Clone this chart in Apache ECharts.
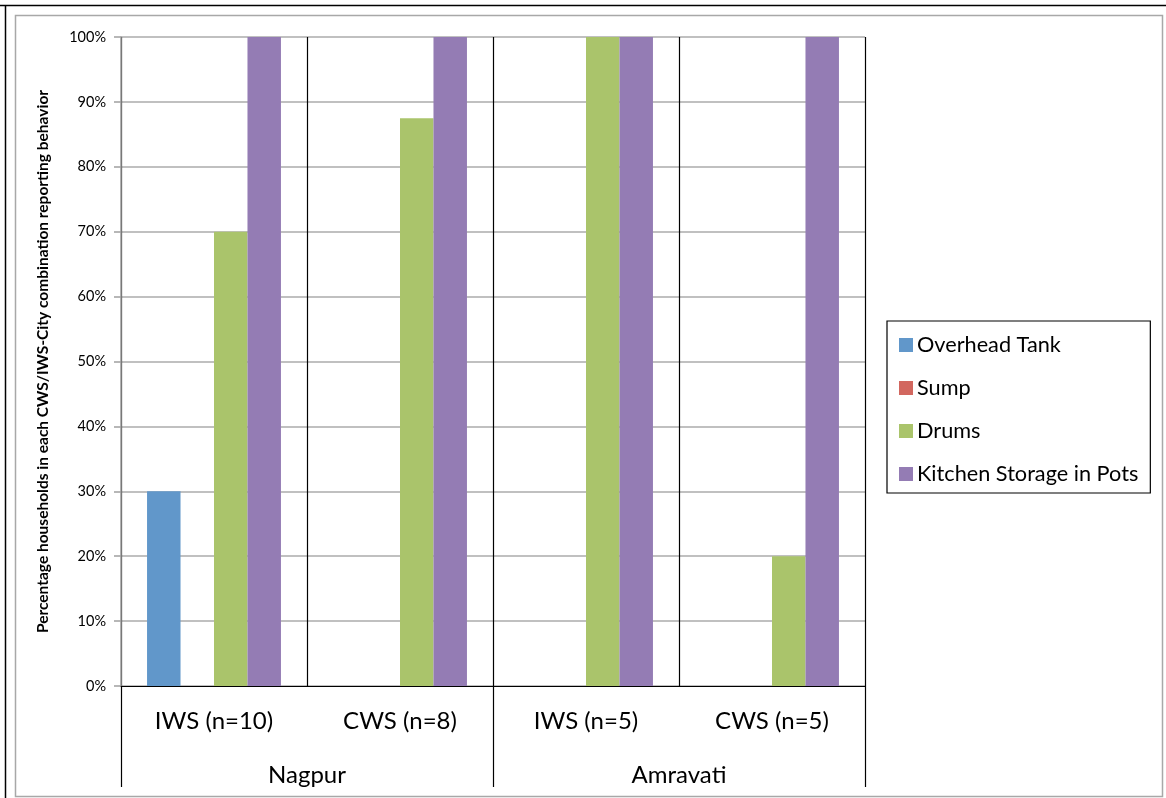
<!DOCTYPE html>
<html>
<head>
<meta charset="utf-8">
<script src="https://cdn.jsdelivr.net/npm/echarts@6/dist/echarts.min.js"></script>
<style>
  html, body { margin: 0; padding: 0; background: #fff; }
  #chart { width: 1166px; height: 798px; }
</style>
</head>
<body>
<div id="chart"></div>
<script>
// Storage behaviours by water-supply type and city
const groups = ['IWS (n=10)', 'CWS (n=8)', 'IWS (n=5)', 'CWS (n=5)'];
const cities = ['Nagpur', 'Amravati'];
const seriesNames = ['Overhead Tank', 'Sump', 'Drums', 'Kitchen Storage in Pots'];
const overheadTank = [30, 0, 0, 0];
const sump = [0, 0, 0, 0];
const drums = [70, 87.5, 100, 20];
const kitchenPots = [100, 100, 100, 100];
const colors = ['#6197CA', '#D2675F', '#AAC46B', '#947CB4'];

const FONT = 'Lato, "Open Sans", sans-serif';
const chart = echarts.init(document.getElementById('chart'), null, { renderer: 'canvas' });

const values = [overheadTank, sump, drums, kitchenPots];

chart.setOption({
  backgroundColor: '#ffffff',
  animation: false,
  color: colors,
  textStyle: { fontFamily: FONT },
  graphic: [
    { type: 'line', shape: { x1: 0, y1: 5.5, x2: 1166, y2: 5.5 }, style: { stroke: '#000', lineWidth: 1.5 } },
    { type: 'line', shape: { x1: 5.5, y1: 5, x2: 5.5, y2: 798 }, style: { stroke: '#000', lineWidth: 1.5 } },
    { type: 'rect', shape: { x: 15.5, y: 15.5, width: 1147, height: 781 }, style: { fill: 'none', stroke: '#A8A8A8', lineWidth: 1.5 } }
  ],
  grid: { left: 121, top: 37, width: 744, height: 649, containLabel: false },
  legend: {
    orient: 'vertical',
    left: 887,
    top: 321,
    data: seriesNames,
    borderColor: '#000',
    borderWidth: 1.2,
    padding: [13, 12, 8, 12],
    itemWidth: 14,
    itemHeight: 14,
    itemGap: 21,
    icon: 'rect',
    textStyle: { fontSize: 21.7, color: '#000', fontFamily: FONT, padding: [0, 0, 0, -1] }
  },
  xAxis: [
    {
      type: 'category',
      data: groups,
      position: 'bottom',
      axisLine: { show: true, lineStyle: { color: '#000', width: 1.2 } },
      axisTick: { show: false },
      axisLabel: { interval: 0, margin: 23, fontSize: 24, color: '#000', fontFamily: FONT },
      splitLine: { show: true, interval: 0, lineStyle: { color: '#000', width: 1.2 } }
    },
    {
      type: 'category',
      data: cities,
      position: 'bottom',
      axisLine: { show: true, lineStyle: { color: '#000', width: 1.2 } },
      axisTick: { show: true, length: 101, interval: 0, lineStyle: { color: '#000', width: 1.2 } },
      axisLabel: { interval: 0, margin: 77, fontSize: 24, color: '#000', fontFamily: FONT },
      splitLine: { show: false }
    }
  ],
  yAxis: {
    type: 'value',
    min: 0,
    max: 100,
    interval: 10,
    name: 'Percentage households in each CWS/IWS-City combination reporting behavior',
    nameLocation: 'middle',
    nameGap: 70,
    nameRotate: 90,
    nameTextStyle: { fontSize: 15.5, fontWeight: 'bold', color: '#000', fontFamily: FONT },
    axisLine: { show: true, lineStyle: { color: '#A0A0A0', width: 1.5 } },
    axisTick: { show: true, length: 7, lineStyle: { color: '#A0A0A0', width: 1.5 } },
    axisLabel: { formatter: '{value}%', margin: 15, fontSize: 14.5, color: '#000', fontFamily: FONT },
    splitLine: { show: true, lineStyle: { color: '#ABABAB', width: 1.6 } }
  },
  series: seriesNames.map((name, i) => ({
    name: name,
    type: 'bar',
    xAxisIndex: 0,
    data: values[i],
    barGap: '0%',
    barCategoryGap: '28%',
    itemStyle: { color: colors[i] }
  }))
});
</script>
</body>
</html>
